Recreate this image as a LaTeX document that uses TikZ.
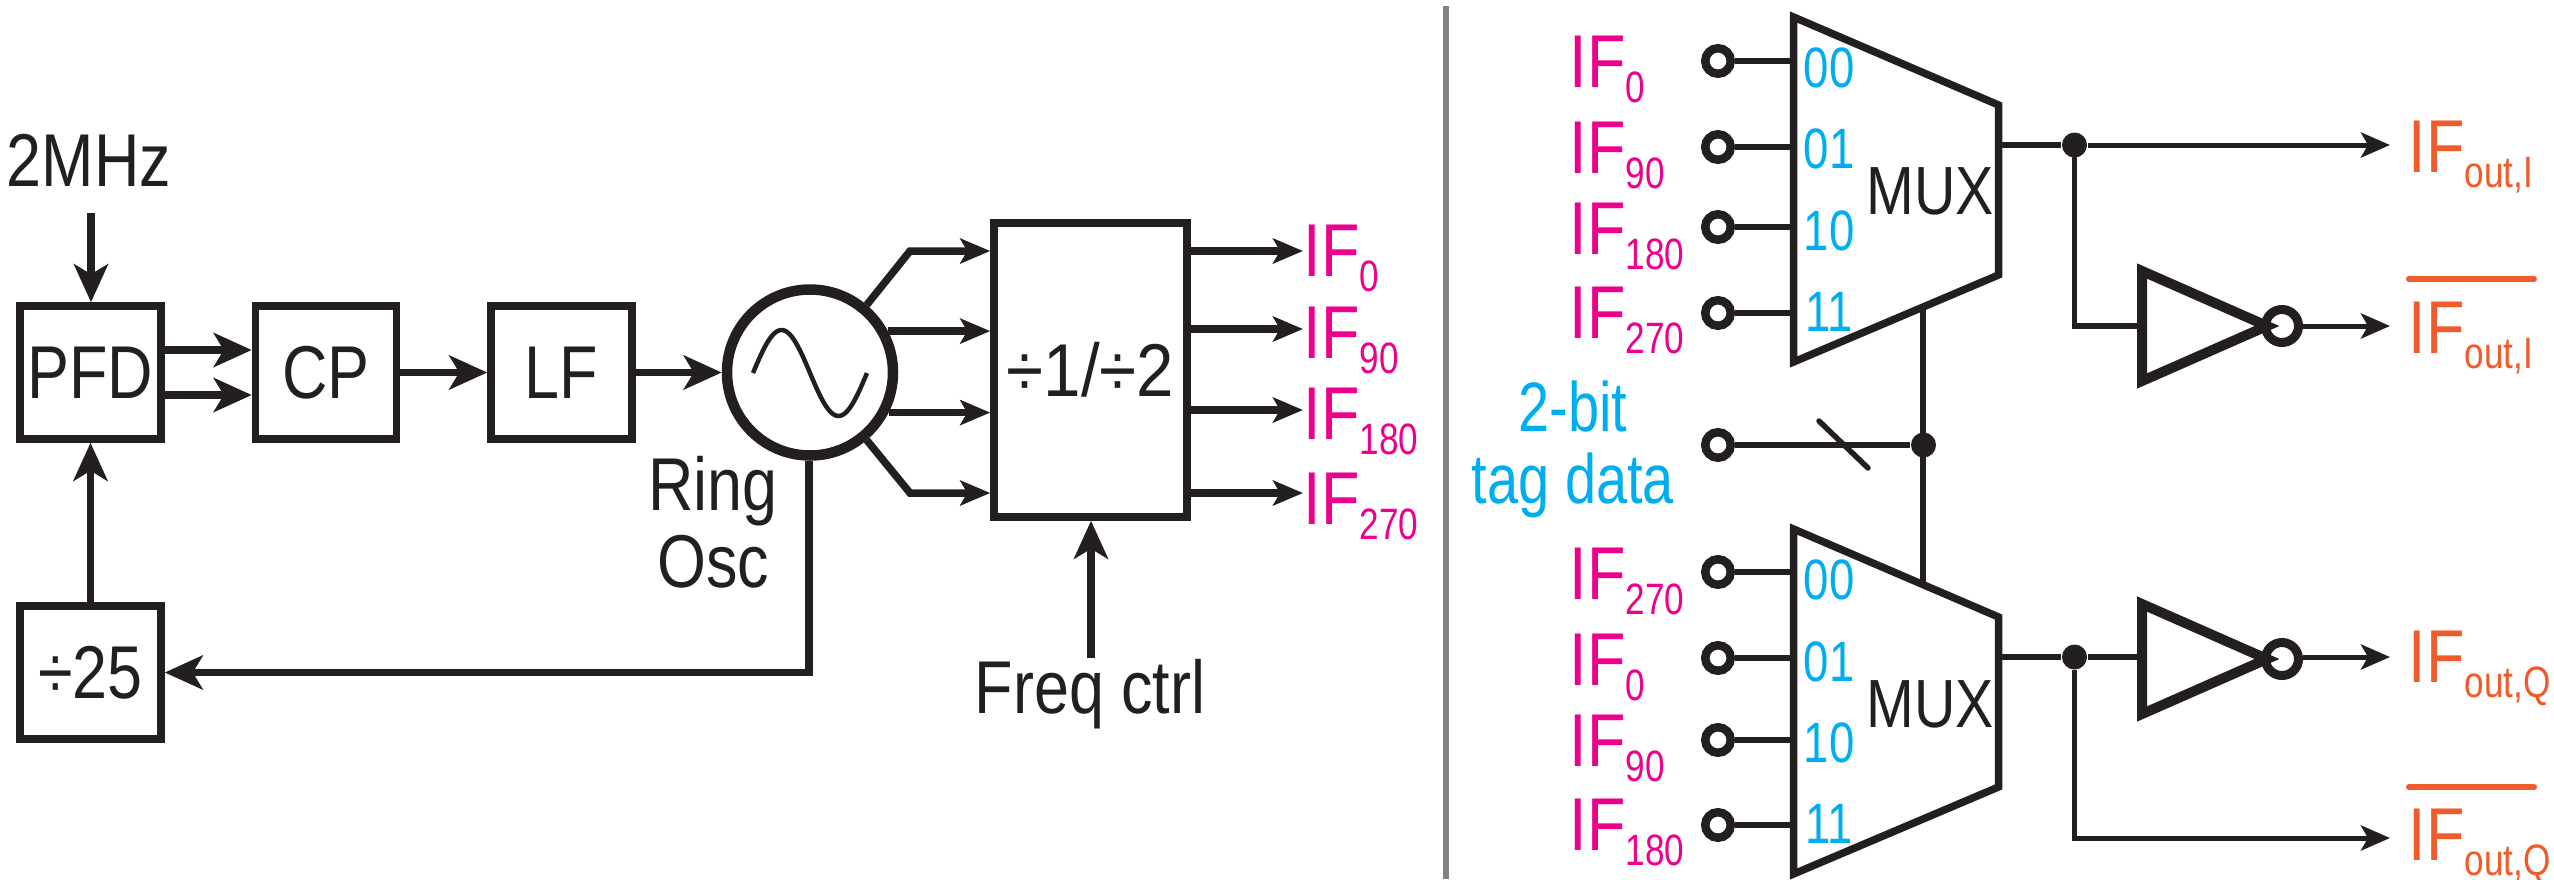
\documentclass[tikz,border=0pt]{standalone}
\usepackage{fontspec}
\setmainfont{Liberation Sans}
\newfontfamily\narrowfont[FakeStretch=0.84]{Liberation Sans}
\newfontfamily\subnarrow[FakeStretch=0.8]{Liberation Sans}
\newfontfamily\ratiofont[FakeStretch=0.9]{Liberation Sans}
\definecolor{inkblack}{HTML}{231F20}
\definecolor{ifpink}{HTML}{EC008C}
\definecolor{bitcyan}{HTML}{00AEEF}
\definecolor{outorange}{HTML}{F15A29}
\definecolor{sepgray}{HTML}{808285}
\newcommand{\bigfont}{\narrowfont\fontsize{21.3}{21.9}\selectfont}
\newcommand{\subfont}{\subnarrow\fontsize{12.5}{14}\selectfont}
\newcommand{\bitfont}{\subnarrow\fontsize{16.2}{18}\selectfont}
\newcommand{\ifname}[1]{IF\raisebox{-1.5mm}{\subfont #1}}
\usepackage{tikz}
\usetikzlibrary{arrows.meta}
\tikzset{
x=0.1mm, y=-0.1mm, % one unit is one pixel of the layout
node distance=23.55mm, % spacing of the three small blocks
block/.style={draw=inkblack, line width=0.75mm, text=inkblack, font=\bigfont, minimum width=14.1mm, minimum height=13.3mm, inner sep=0pt},
thickarrow/.style={->, >={Stealth[length=3.8mm,width=3.4mm,inset=1mm]}, draw=inkblack, line width=0.75mm},
midarrow/.style={->, >={Stealth[length=3.0mm,width=2.5mm,inset=0.7mm]}, draw=inkblack, line width=0.75mm},
thinarrow/.style={->, >={Stealth[length=2.9mm,width=2.5mm,inset=0.7mm]}, draw=inkblack, line width=0.5mm},
wire/.style={draw=inkblack, line width=0.55mm},
heavy/.style={draw=inkblack, line width=0.75mm},
terminal/.style={circle, draw=inkblack, line width=0.85mm, minimum size=2.55mm, inner sep=0pt},
bubble/.style={circle, draw=inkblack, line width=0.9mm, minimum size=3.3mm, inner sep=0pt},
junction/.style={circle, fill=inkblack, minimum size=2.5mm, inner sep=0pt},
label/.style={inner sep=0pt, anchor=base, text=inkblack, font=\bigfont},
pinklabel/.style={inner sep=0pt, anchor=base west, text=ifpink, font=\bigfont},
orangelabel/.style={inner sep=0pt, anchor=base west, text=outorange, font=\bigfont},
bitlabel/.style={inner sep=0pt, anchor=base, text=bitcyan, font=\bitfont},
}
\begin{document}
\begin{tikzpicture}
	\useasboundingbox (0,0) rectangle (2554,879);
	% PLL side
	\node[block] (pfd) at (90.5,372.5) {PFD};
	\node[block, right of=pfd] (cp) {CP};
	\node[block, right of=cp] (lf) {LF};
	\node[block] (div25) at (90.5,672.5) {÷25};
	\node[label] (clk) at (89,186) {2MHz};
	\coordinate (clkend) at (91,213);
	\node[circle, draw=inkblack, line width=1.05mm, minimum size=16.6mm, inner sep=0pt] (osc) at (810,372.5) {};
	\node[inner sep=0pt, align=center, text=inkblack, font=\bigfont] (ringosc) at (713,522) {Ring\\Osc};
	\node[block, minimum width=19.3mm, minimum height=29.4mm, font=\ratiofont\fontsize{21.3}{21.9}\selectfont] (divider) at (1090.5,370) {÷1/÷2};
	\node[label] (freq) at (1090,713) {Freq ctrl};
	\coordinate (freqend) at (1091,658);
	\coordinate (bendup) at (910,251);
	\coordinate (benddown) at (910,493);
	\coordinate (fbcorner) at (809,672.5);
	\draw[inkblack, line width=0.45mm, domain=-1:1, samples=60, smooth] plot ({810+57*\x},{373+43*sin(180*\x)});
	\draw[thickarrow] (clkend) -- (pfd.north -| clkend);
	\draw[thickarrow] (pfd.east |- 0,350) -- (cp.west |- 0,350);
	\draw[thickarrow] (pfd.east |- 0,395) -- (cp.west |- 0,395);
	\draw[thickarrow] (cp) -- (lf);
	\draw[thickarrow] (lf) -- (osc);
	\draw[thickarrow] (div25.north) -- (pfd.south);
	\draw[thickarrow] (osc.south -| fbcorner) -- (fbcorner) -- (div25.east |- fbcorner);
	\draw[midarrow] (osc.50) -- (bendup) -- (divider.west |- bendup);
	\draw[midarrow] (osc.28) -- (divider.west |- osc.28);
	\draw[midarrow] (osc.-27) -- (divider.west |- osc.-27);
	\draw[midarrow] (osc.-50) -- (benddown) -- (divider.west |- benddown);
	\draw[thickarrow] (freqend) -- (divider.south -| freqend);
	\node[pinklabel] (lif0) at (1303,276) {\ifname{0}};
	\node[pinklabel] (lif90) at (1303,358) {\ifname{90}};
	\node[pinklabel] (lif180) at (1303,439) {\ifname{180}};
	\node[pinklabel] (lif270) at (1303,524) {\ifname{270}};
	\draw[midarrow] (divider.east |- 0,251) -- (lif0.west |- 0,251);
	\draw[midarrow] (divider.east |- 0,329) -- (lif90.west |- 0,329);
	\draw[midarrow] (divider.east |- 0,410) -- (lif180.west |- 0,410);
	\draw[midarrow] (divider.east |- 0,493) -- (lif270.west |- 0,493);
	% separator
	\coordinate (septop) at (1446.3,6);
	\coordinate (sepbot) at (1446.3,879);
	\draw[draw=sepgray, line width=0.6mm] (septop) -- (sepbot);
	% upper multiplexer
	\coordinate (muxatl) at (1793.5,17);
	\coordinate (muxatr) at (1998.5,105);
	\coordinate (muxabr) at (1998.5,275);
	\coordinate (muxabl) at (1793.5,362);
	\coordinate (muxasel) at (1923,307);
	\coordinate (muxaout) at (1998.5,145);
	\node[terminal] (a0) at (1718,61) {};
	\node[terminal] (a1) at (1718,147) {};
	\node[terminal] (a2) at (1718,227) {};
	\node[terminal] (a3) at (1718,313) {};
	\draw[wire] (a0) -- (a0 -| muxatl);
	\draw[wire] (a1) -- (a1 -| muxatl);
	\draw[wire] (a2) -- (a2 -| muxatl);
	\draw[wire] (a3) -- (a3 -| muxatl);
	\draw[heavy] (muxatl) -- (muxatr) -- (muxabr) -- (muxabl) -- cycle;
	% lower multiplexer
	\coordinate (muxbtl) at (1793.5,529);
	\coordinate (muxbtr) at (1998.5,617);
	\coordinate (muxbbr) at (1998.5,787);
	\coordinate (muxbbl) at (1793.5,874);
	\coordinate (muxbsel) at (1923,585);
	\coordinate (muxbout) at (1998.5,657);
	\node[terminal] (b0) at (1718,572) {};
	\node[terminal] (b1) at (1718,658) {};
	\node[terminal] (b2) at (1718,740) {};
	\node[terminal] (b3) at (1718,825) {};
	\draw[wire] (b0) -- (b0 -| muxbtl);
	\draw[wire] (b1) -- (b1 -| muxbtl);
	\draw[wire] (b2) -- (b2 -| muxbtl);
	\draw[wire] (b3) -- (b3 -| muxbtl);
	\draw[heavy] (muxbtl) -- (muxbtr) -- (muxbbr) -- (muxbbl) -- cycle;
	% tag data bus
	\node[terminal] (tag) at (1718,445) {};
	\node[junction] (tagdot) at (1923.5,445) {};
	\coordinate (slasha) at (1819,421);
	\coordinate (slashb) at (1868,468);
	\draw[wire] (tag) -- (tagdot);
	\draw[wire, line cap=round] (slasha) -- (slashb);
	\draw[wire, line width=0.6mm] (muxasel) -- (muxbsel);
	\node[inner sep=0pt, align=center, text=bitcyan, font=\subnarrow\fontsize{19.9}{20.5}\selectfont] (tagtext) at (1573,449) {2-bit\\tag data};
	% input names
	\node[pinklabel] (ra0) at (1569,87) {\ifname{0}};
	\node[pinklabel] (ra1) at (1569,173) {\ifname{90}};
	\node[pinklabel] (ra2) at (1569,254) {\ifname{180}};
	\node[pinklabel] (ra3) at (1569,338) {\ifname{270}};
	\node[pinklabel] (rb0) at (1569,599) {\ifname{270}};
	\node[pinklabel] (rb1) at (1569,685) {\ifname{0}};
	\node[pinklabel] (rb2) at (1569,766) {\ifname{90}};
	\node[pinklabel] (rb3) at (1569,850) {\ifname{180}};
	\node[bitlabel] (a00) at (1829,87) {00};
	\node[bitlabel] (a01) at (1829,168) {01};
	\node[bitlabel] (a10) at (1829,250) {10};
	\node[bitlabel] (a11) at (1829,331) {11};
	\node[bitlabel] (b00) at (1829,599) {00};
	\node[bitlabel] (b01) at (1829,681) {01};
	\node[bitlabel] (b10) at (1829,762) {10};
	\node[bitlabel] (b11) at (1829,843) {11};
	\node[label, font=\narrowfont\fontsize{19.4}{20}\selectfont] (muxa) at (1930,214) {MUX};
	\node[label, font=\narrowfont\fontsize{19.4}{20}\selectfont] (muxb) at (1930,727) {MUX};
	% outputs
	\node[orangelabel] (outi) at (2408,172) {\ifname{out,I}};
	\node[orangelabel] (outib) at (2408,353) {\ifname{out,I}};
	\node[orangelabel] (outq) at (2408,682) {\ifname{out,Q}};
	\node[orangelabel] (outqb) at (2408,860) {\ifname{out,Q}};
	\coordinate (tipi) at (2390,145);
	\coordinate (tipib) at (2390,326);
	\coordinate (tipq) at (2390,657);
	\coordinate (tipqb) at (2390,838);
	\node[junction] (doti) at (2074.5,145) {};
	\node[junction] (dotq) at (2074.5,657) {};
	\node[bubble] (bubi) at (2282,326) {};
	\node[bubble] (bubq) at (2282,659) {};
	\coordinate (invia) at (2142,271);
	\coordinate (invib) at (2142,381);
	\coordinate (invic) at (2267,326);
	\coordinate (invqa) at (2142,604);
	\coordinate (invqb) at (2142,714);
	\coordinate (invqc) at (2267,659);
	\draw[wire] (muxaout) -- (doti);
	\draw[wire] (muxbout) -- (dotq);
	\draw[thinarrow] (doti) -- (tipi);
	\draw[wire, line cap=round] (doti) -- (doti |- tipib) -- (invia |- tipib);
	\draw[wire] (dotq) -- (invqa |- tipq);
	\draw[thinarrow] (dotq) -- (dotq |- tipqb) -- (tipqb);
	\draw[thinarrow] (bubi) -- (tipib);
	\draw[thinarrow] (bubq.east |- tipq) -- (tipq);
	\draw[draw=inkblack, line width=1mm] (invia) -- (invic) -- (invib) -- cycle;
	\draw[draw=inkblack, line width=1mm] (invqa) -- (invqc) -- (invqb) -- cycle;
	\coordinate (barial) at (2409,279);
	\coordinate (bariar) at (2534,279);
	\coordinate (barqal) at (2409,787);
	\coordinate (barqar) at (2534,787);
	\draw[outorange, line width=0.6mm, line cap=round] (barial) -- (bariar);
	\draw[outorange, line width=0.6mm, line cap=round] (barqal) -- (barqar);
\end{tikzpicture}
\end{document}
